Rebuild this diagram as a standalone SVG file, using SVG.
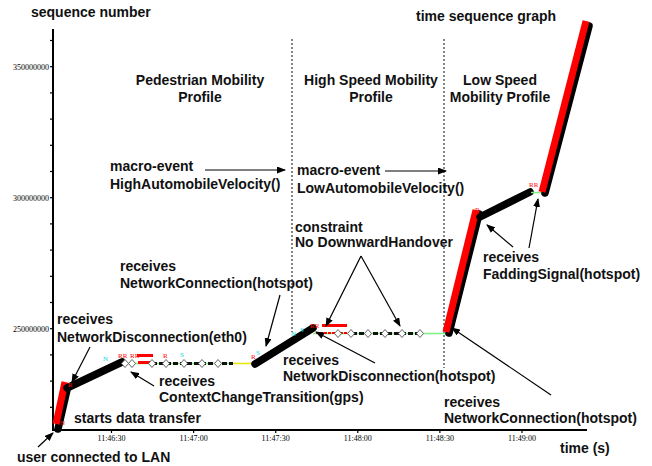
<svg xmlns="http://www.w3.org/2000/svg" width="652" height="466" viewBox="0 0 652 466">
<style>
.t{font-family:"Liberation Sans",Arial,sans-serif;font-weight:bold;font-size:14px;fill:#111}
.c{text-anchor:middle}
.ax{font-family:"Liberation Serif","Times New Roman",serif;font-size:8px;fill:#000}
.ya{text-anchor:end}
.xa{text-anchor:middle}
.axis{stroke:#000;stroke-width:2;fill:none}
.tick{stroke:#000;stroke-width:1.2}
.dot{stroke:#333;stroke-width:1.2;stroke-dasharray:2 2;fill:none}
.arr{stroke:#000;stroke-width:1.2;fill:none;marker-end:url(#ah)}
.thick{stroke:#000;stroke-width:7.5;stroke-linecap:round;fill:none}
.red{stroke:#ff0000;stroke-width:7;stroke-linecap:butt;fill:none}
.g{stroke:#80f080;stroke-width:1.5;fill:none}
.y{stroke:#e6e600;stroke-width:1.5;fill:none}
.dk{stroke:#111;stroke-width:3;stroke-dasharray:5 2;fill:none}
.dm{fill:#fff;stroke:#666;stroke-width:1}
.mr{font-family:"Liberation Serif",serif;font-size:7px;fill:#ff0000}
.mc{font-family:"Liberation Serif",serif;font-size:7px;fill:#00d8d8}
</style>
<defs>
<marker id="ah" markerWidth="9" markerHeight="7" refX="8" refY="3.5" orient="auto" markerUnits="userSpaceOnUse">
<path d="M0,0 L9,3.5 L0,7 Z" fill="#000"/>
</marker>
<path id="dia" d="M0,-4 L3.5,0 L0,4 L-3.5,0 Z"/>
</defs>
<rect width="652" height="466" fill="#fff"/>

<g id="axes">
<line class="axis" x1="53" y1="29" x2="53" y2="431"/>
<line class="axis" x1="52" y1="430" x2="587" y2="430"/>
<g class="tick">
<line x1="50" y1="40.5" x2="53" y2="40.5"/><line x1="50" y1="66.7" x2="53" y2="66.7"/><line x1="50" y1="92.9" x2="53" y2="92.9"/><line x1="50" y1="119.1" x2="53" y2="119.1"/><line x1="50" y1="145.3" x2="53" y2="145.3"/><line x1="50" y1="171.5" x2="53" y2="171.5"/><line x1="50" y1="197.7" x2="53" y2="197.7"/><line x1="50" y1="223.9" x2="53" y2="223.9"/><line x1="50" y1="250.1" x2="53" y2="250.1"/><line x1="50" y1="276.3" x2="53" y2="276.3"/><line x1="50" y1="302.5" x2="53" y2="302.5"/><line x1="50" y1="328.7" x2="53" y2="328.7"/><line x1="50" y1="354.9" x2="53" y2="354.9"/><line x1="50" y1="381.1" x2="53" y2="381.1"/><line x1="50" y1="407.3" x2="53" y2="407.3"/>
<line x1="111.5" y1="430" x2="111.5" y2="433"/><line x1="193.6" y1="430" x2="193.6" y2="433"/><line x1="275.7" y1="430" x2="275.7" y2="433"/><line x1="357.8" y1="430" x2="357.8" y2="433"/><line x1="439.9" y1="430" x2="439.9" y2="433"/><line x1="522" y1="430" x2="522" y2="433"/>
</g>
<text class="ax ya" x="49" y="69.5">350000000</text>
<text class="ax ya" x="49" y="200.5">300000000</text>
<text class="ax ya" x="49" y="331.5">250000000</text>
<text class="ax xa" x="111.5" y="441">11:46:30</text>
<text class="ax xa" x="193.6" y="441">11:47:00</text>
<text class="ax xa" x="275.7" y="441">11:47:30</text>
<text class="ax xa" x="357.8" y="441">11:48:00</text>
<text class="ax xa" x="439.9" y="441">11:48:30</text>
<text class="ax xa" x="522" y="441">11:49:00</text>
<text class="t" x="31" y="17">sequence number</text>
<text class="t" x="560" y="453">time (s)</text>
<text class="t" x="416" y="21">time sequence graph</text>
</g>

<g id="profiles">
<line class="dot" x1="292" y1="39" x2="292" y2="332"/>
<line class="dot" x1="444" y1="39" x2="444" y2="368"/>
<text class="t c" x="200" y="85">Pedestrian Mobility</text>
<text class="t c" x="200" y="101.5">Profile</text>
<text class="t c" x="371" y="85">High Speed Mobility</text>
<text class="t c" x="371" y="101.5">Profile</text>
<text class="t c" x="500" y="85">Low Speed</text>
<text class="t c" x="500" y="101.5">Mobility Profile</text>
</g>

<g id="plot">
<line class="thick" x1="58" y1="429" x2="67" y2="390"/>
<line class="red" x1="56" y1="424" x2="65" y2="382"/>
<line class="thick" x1="67" y1="388" x2="122" y2="362"/>
<line class="g" x1="122" y1="363.5" x2="233" y2="363.5"/>
<line class="y" x1="233" y1="363.5" x2="254" y2="363.5"/>
<line x1="138" y1="362.5" x2="153" y2="362.5" stroke="#ff0000" stroke-width="3"/>
<line class="dk" x1="152" y1="363.5" x2="233" y2="363.5"/>
<use href="#dia" class="dm" x="125" y="363.5"/><use href="#dia" class="dm" x="132" y="363.5"/><use href="#dia" class="dm" x="152" y="363.5"/><use href="#dia" class="dm" x="166" y="363.5"/><use href="#dia" class="dm" x="184" y="363.5"/><use href="#dia" class="dm" x="202" y="363.5"/><use href="#dia" class="dm" x="218" y="363.5"/>
<line class="thick" x1="255" y1="364" x2="313" y2="328"/>
<line class="g" x1="313" y1="333.5" x2="446" y2="333.5"/>
<line x1="316" y1="333" x2="347" y2="333" stroke="#ff0000" stroke-width="2" stroke-dasharray="3 1"/>
<line class="dk" x1="352" y1="333.5" x2="420" y2="333.5"/>
<use href="#dia" class="dm" x="338" y="333.5"/><use href="#dia" class="dm" x="351" y="333.5"/><use href="#dia" class="dm" x="368" y="333.5"/><use href="#dia" class="dm" x="385" y="333.5"/><use href="#dia" class="dm" x="402" y="333.5"/><use href="#dia" class="dm" x="420" y="333.5"/>
<line class="thick" x1="449" y1="333" x2="479" y2="214"/>
<line class="red" x1="446" y1="332" x2="476" y2="210"/>
<line class="thick" x1="480" y1="217" x2="530" y2="192"/>
<line class="g" x1="531" y1="192.5" x2="543" y2="192.5"/>
<line class="thick" x1="545" y1="193" x2="589" y2="26"/>
<line class="red" x1="542" y1="192" x2="586" y2="21" stroke-width="8"/>
<text class="mr" x="68" y="387">R</text>
<text class="mr" x="60" y="425">N</text>
<text class="mc" x="103" y="361">N</text>
<text class="mr" x="118" y="358">RR</text>
<text class="mr" x="130" y="358">RR</text>
<rect x="137" y="354" width="16" height="3" fill="#ff0000"/>
<text class="mr" x="163" y="358">R</text>
<text class="mc" x="180" y="357">S</text>
<text class="mr" x="251" y="359">R</text>
<text class="mc" x="256" y="355">S</text>
<text class="mc" x="291" y="336">N</text>
<text class="mc" x="300" y="332">S</text>
<text class="mr" x="310" y="328">RR</text>
<rect x="322" y="324" width="25" height="3" fill="#ff0000"/>
<text class="mr" x="475" y="212">R</text>
<text class="mr" x="529" y="187">RR</text>
</g>

<g id="labels">
<text class="t" x="110" y="171">macro-event</text>
<text class="t" x="110" y="189">HighAutomobileVelocity()</text>
<text class="t" x="297" y="175">macro-event</text>
<text class="t" x="297" y="193">LowAutomobileVelocity()</text>
<text class="t" x="295" y="231.5">constraint</text>
<text class="t" x="295" y="246.5">No DownwardHandover</text>
<text class="t" x="120" y="271">receives</text>
<text class="t" x="120" y="288">NetworkConnection(hotspot)</text>
<text class="t" x="57" y="324">receives</text>
<text class="t" x="57" y="341.5">NetworkDisconnection(eth0)</text>
<text class="t" x="159" y="386">receives</text>
<text class="t" x="159" y="402">ContextChangeTransition(gps)</text>
<text class="t" x="74" y="422.5">starts data transfer</text>
<text class="t" x="17" y="461.5">user connected to LAN</text>
<text class="t" x="283" y="365">receives</text>
<text class="t" x="283" y="381">NetworkDisconnection(hotspot)</text>
<text class="t" x="444" y="406.5">receives</text>
<text class="t" x="444" y="423">NetworkConnection(hotspot)</text>
<text class="t" x="483" y="262">receives</text>
<text class="t" x="483" y="279">FaddingSignal(hotspot)</text>
</g>

<g id="connectors">
<line class="arr" x1="205" y1="170" x2="285" y2="170"/>
<line class="arr" x1="385" y1="171" x2="446" y2="171"/>
<line class="arr" x1="361" y1="256" x2="326" y2="326"/>
<line class="arr" x1="361" y1="256" x2="400" y2="326"/>
<line class="arr" x1="280" y1="295" x2="266" y2="346"/>
<line class="arr" x1="90" y1="347" x2="72" y2="382"/>
<line class="arr" x1="154" y1="386" x2="131" y2="372"/>
<line class="arr" x1="38" y1="447" x2="53" y2="433"/>
<line class="arr" x1="375" y1="363" x2="316" y2="332"/>
<line class="arr" x1="551" y1="395" x2="452" y2="328"/>
<line class="arr" x1="513" y1="247" x2="487" y2="225"/>
<line class="arr" x1="529" y1="248" x2="538" y2="199"/>
</g>
</svg>
